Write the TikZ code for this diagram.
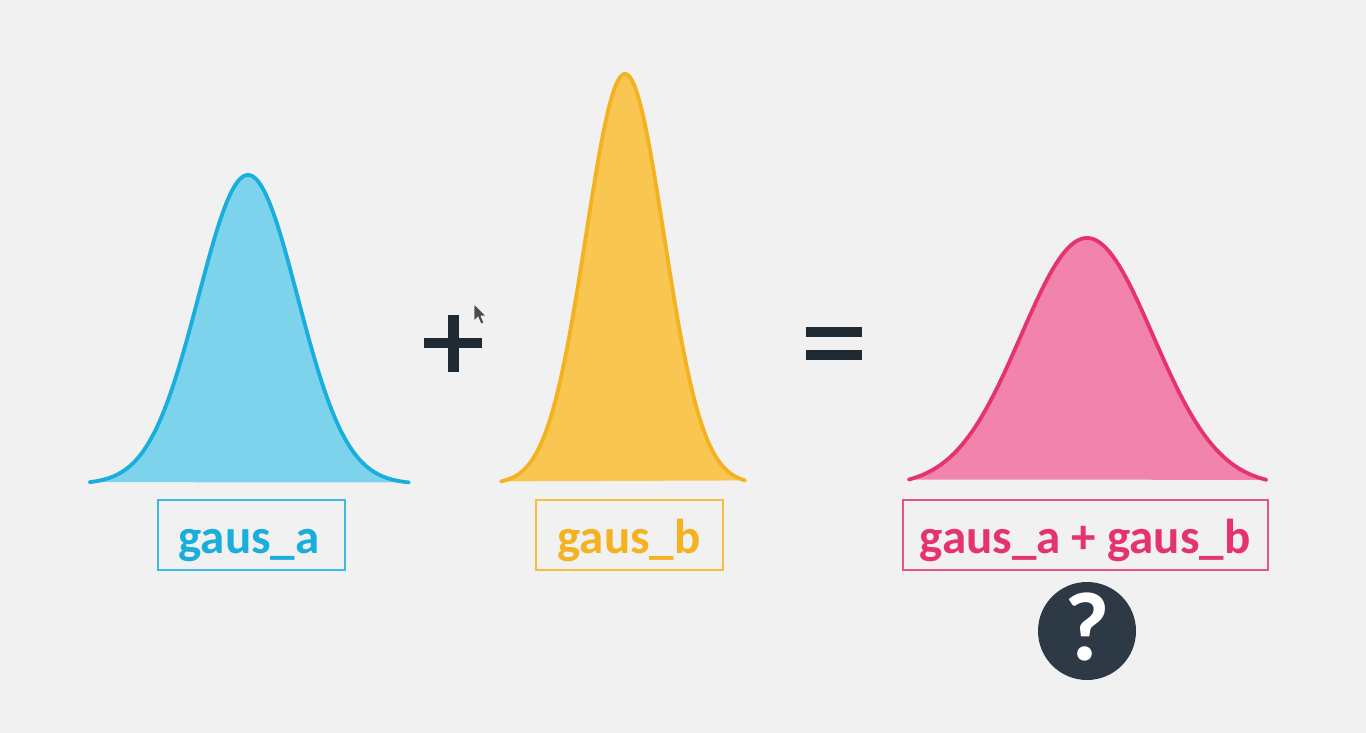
\documentclass[tikz,border=0pt]{standalone}
\usepackage{fontspec}
\setmainfont{Carlito}
\definecolor{bg}{HTML}{F1F1F1}
\definecolor{blueS}{HTML}{19AEDB}
\definecolor{blueF}{HTML}{7DD3EC}
\definecolor{yelS}{HTML}{F5B220}
\definecolor{yelF}{HTML}{F9C651}
\definecolor{pinkS}{HTML}{E4336F}
\definecolor{pinkF}{HTML}{F283AC}
\definecolor{dark}{HTML}{1F2A33}
\definecolor{qcirc}{HTML}{2D3A45}
\tikzset{
  curvestroke/.style={line width=3.8pt, line join=round, line cap=round},
  labelbox/.style={draw, line width=1.8pt, minimum width=#1, minimum height=70pt, inner sep=0pt},
  labeltext/.style={anchor=base, inner sep=0pt, font=\fontsize{49}{49}\selectfont\bfseries},
}
\begin{document}
\begin{tikzpicture}[x=1pt,y=-1pt]
\useasboundingbox (0,0) rectangle (1366,733);
\fill[bg] (0,0) rectangle (1366,733);

% blue gaussian
\fill[blueF] plot[domain=-3.2:3.25,samples=120] ({248+49.5*\x},{484-309*exp(-(\x)^2/2)}) -- cycle;
\draw[blueS,curvestroke] plot[domain=-3.2:3.25,samples=120] ({248+49.5*\x},{484-309*exp(-(\x)^2/2)});

% yellow gaussian
\fill[yelF] plot[domain=-3.18:3.08,samples=120] ({625+39*\x},{484-410*exp(-(\x)^2/2)}) -- cycle;
\draw[yelS,curvestroke] plot[domain=-3.18:3.08,samples=120] ({625+39*\x},{484-410*exp(-(\x)^2/2)});

% pink gaussian
\fill[pinkF] plot[domain=-2.7:2.72,samples=120] ({1087+66*\x},{486-248*exp(-(\x)^2/2)}) -- cycle;
\draw[pinkS,curvestroke] plot[domain=-2.7:2.72,samples=120] ({1087+66*\x},{486-248*exp(-(\x)^2/2)});

% label boxes
\node[labelbox=187pt, draw=blueS!85] (boxA) at (251.5,535) {};
\node[labelbox=187pt, draw=yelS!85] (boxB) at (629.5,535) {};
\node[labelbox=365pt, draw=pinkS!85] (boxC) at (1085.5,535) {};
% label texts
\node[labeltext, text=blueS] (labA) at (249,553) {gaus\_a};
\node[labeltext, text=yelS] (labB) at (629,553) {gaus\_b};
\node[labeltext, text=pinkS] (labC) at (1085,553) {gaus\_a + gaus\_b};

% plus sign
\fill[dark] (448,315) rectangle (459,372);
\fill[dark] (424,338) rectangle (482,348);

% equals sign
\fill[dark] (806,327) rectangle (862,337);
\fill[dark] (806,350) rectangle (862,360);

% cursor
\fill[black!70, draw=white, line width=0.6pt] (474,304) -- (474,321) -- (478,317) -- (481,324) -- (484,323) -- (481,316) -- (486,316) -- cycle;

% question mark
\node[circle, fill=qcirc, minimum size=98pt, inner sep=0pt] (q) at (1087,631) {};
\node[anchor=base, inner sep=0pt, text=white, font=\fontsize{98}{98}\selectfont\bfseries] (qmark) at (1087,660) {?};
\end{tikzpicture}
\end{document}
